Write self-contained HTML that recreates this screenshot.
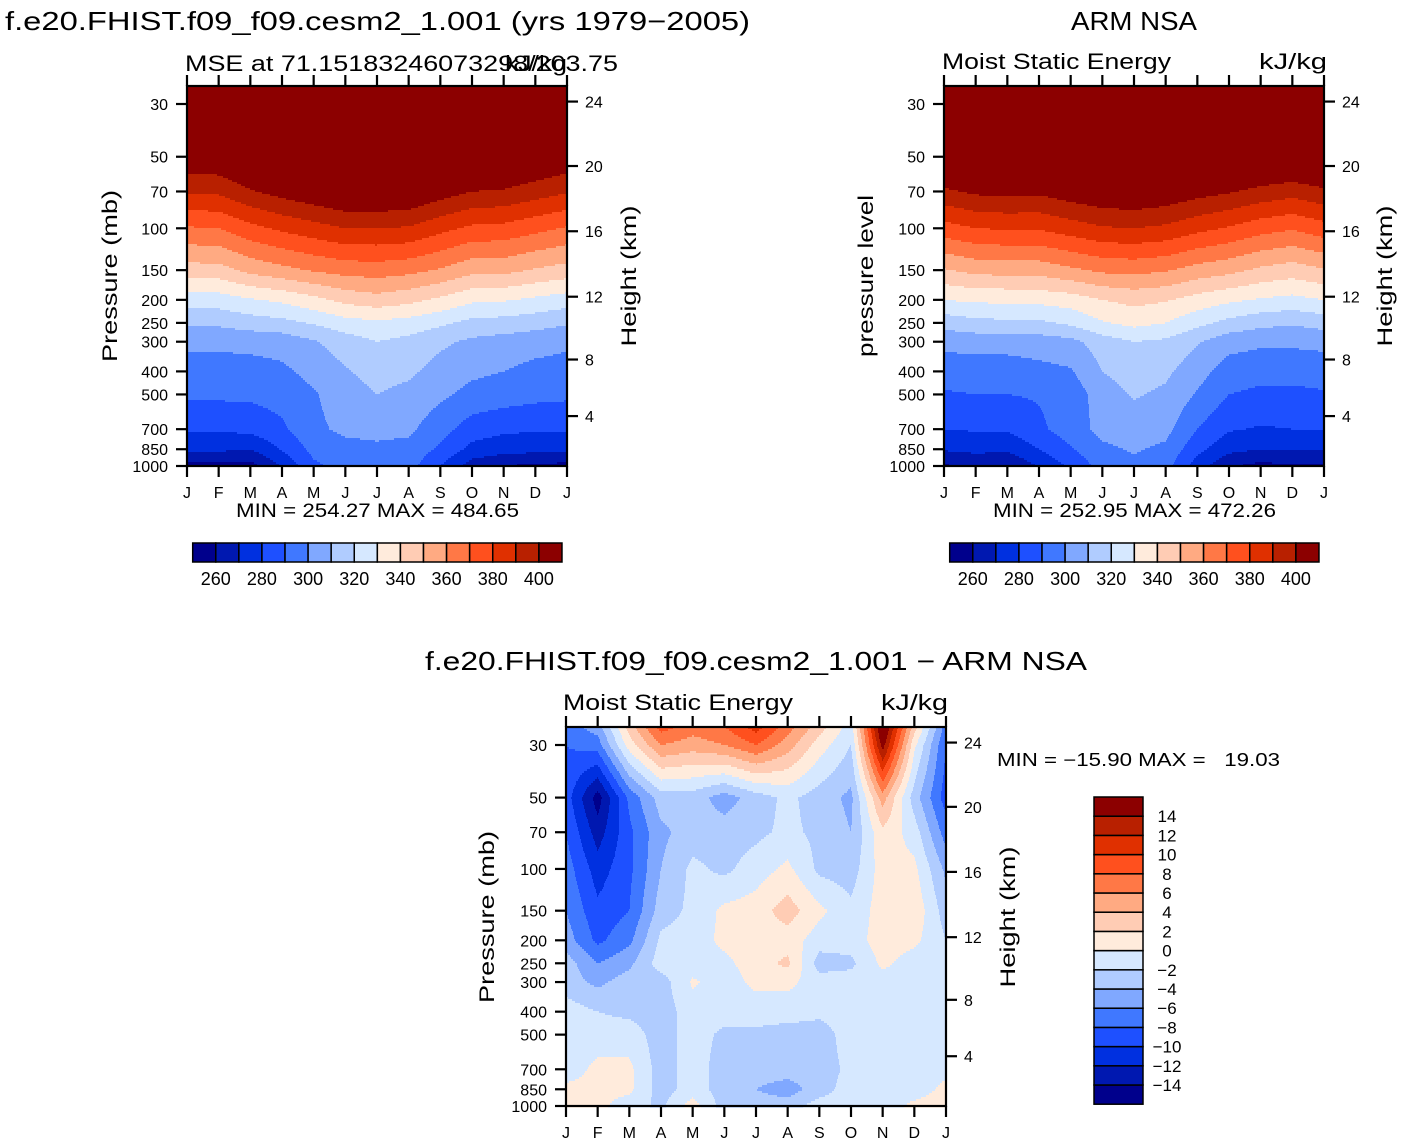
<!DOCTYPE html>
<html><head><meta charset="utf-8"><style>
html,body{margin:0;padding:0;background:#fff}
svg{display:block}
text{font-family:"Liberation Sans",Arial,sans-serif;fill:#000}
</style></head><body>
<svg id="root" xmlns="http://www.w3.org/2000/svg" width="1404" height="1144" viewBox="0 0 1404 1144">
<rect x="0" y="0" width="1404" height="1144" fill="#fff"/>
<text x="5" y="30" font-size="26" textLength="745" lengthAdjust="spacingAndGlyphs">f.e20.FHIST.f09_f09.cesm2_1.001 (yrs 1979−2005)</text>
<text x="1071" y="30" font-size="26" textLength="126" lengthAdjust="spacingAndGlyphs">ARM NSA</text>
<text x="185" y="71" font-size="22" textLength="433" lengthAdjust="spacingAndGlyphs">MSE at 71.15183246073298/203.75</text>
<text x="505" y="71" font-size="22" textLength="62" lengthAdjust="spacingAndGlyphs">kJ/kg</text>
<text x="942" y="69" font-size="22" textLength="229" lengthAdjust="spacingAndGlyphs">Moist Static Energy</text>
<text x="1259" y="69" font-size="22" textLength="68" lengthAdjust="spacingAndGlyphs">kJ/kg</text>
<text x="236" y="517" font-size="19" textLength="283" lengthAdjust="spacingAndGlyphs">MIN = 254.27 MAX = 484.65</text>
<text x="993" y="517" font-size="19" textLength="283" lengthAdjust="spacingAndGlyphs">MIN = 252.95 MAX = 472.26</text>
<text x="425" y="670" font-size="26" textLength="662" lengthAdjust="spacingAndGlyphs">f.e20.FHIST.f09_f09.cesm2_1.001 − ARM NSA</text>
<text x="563" y="710" font-size="22" textLength="230" lengthAdjust="spacingAndGlyphs">Moist Static Energy</text>
<text x="881" y="710" font-size="22" textLength="67" lengthAdjust="spacingAndGlyphs">kJ/kg</text>
<text x="997" y="766" font-size="18" textLength="283" lengthAdjust="spacingAndGlyphs" xml:space="preserve">MIN = −15.90 MAX =   19.03</text>
<text transform="translate(117,276) rotate(-90)" text-anchor="middle" font-size="21" textLength="172" lengthAdjust="spacingAndGlyphs">Pressure (mb)</text>
<text transform="translate(636,276) rotate(-90)" text-anchor="middle" font-size="21" textLength="141" lengthAdjust="spacingAndGlyphs">Height (km)</text>
<text transform="translate(873,276) rotate(-90)" text-anchor="middle" font-size="21" textLength="162" lengthAdjust="spacingAndGlyphs">pressure level</text>
<text transform="translate(1392,276) rotate(-90)" text-anchor="middle" font-size="21" textLength="141" lengthAdjust="spacingAndGlyphs">Height (km)</text>
<text transform="translate(494,917) rotate(-90)" text-anchor="middle" font-size="21" textLength="172" lengthAdjust="spacingAndGlyphs">Pressure (mb)</text>
<text transform="translate(1015,917) rotate(-90)" text-anchor="middle" font-size="21" textLength="141" lengthAdjust="spacingAndGlyphs">Height (km)</text>
</svg>
<script>
const months = ["J","F","M","A","M","J","J","A","S","O","N","D","J"];
const pressureLevels = [25,30,50,70,100,150,200,250,300,400,500,700,850,1000];
const pressureTicks = [30,50,70,100,150,200,250,300,400,500,700,850,1000];
const heightTicks = [24,20,16,12,8,4];
const heightTickPressures = [29.3,54.7,102.9,194.0,356.5,616.6];
const colorTable = ["#00008c","#0018b0","#0030e0","#1e50ff","#4078ff","#80a8ff","#b0ccff","#d6e8ff","#ffebdc","#ffccb4","#ffaa82","#ff7846","#ff501e","#e03000","#b82000","#8c0000"];
const mseLevels = [260,270,280,290,300,310,320,330,340,350,360,370,380,390,400];
const mseLabels = [260,280,300,320,340,360,380,400];
const diffLevels = [-14,-12,-10,-8,-6,-4,-2,0,2,4,6,8,10,12,14];
const diffLabels = [14,12,10,8,6,4,2,0,-2,-4,-6,-8,-10,-12,-14];

// rows = pressureLevels (25..1000 mb), columns = months J..J
const modelMSE = [
[450,451,456,459,462,465,465,464,460,456,456,453,450],
[440,441,446,449,452,455,455,454,450,446,446,443,440],
[408,409,415,420,424,428,428,427,422,416,415,412,408],
[391,392,399,404,408,412,412,411,405,400,399,395,391],
[369,370,377,382,386,390,390,389,383,378,377,373,369],
[346,346,353,357,361,364,365,363,359,353,353,349,346],
[325,325,329,332,337,343,346,343,338,332,331,328,325],
[311,312,315,317,321,326,328,326,322,317,316,314,311],
[302,302,303,304,309,315,320,317,312,308,306,304,302],
[296,296,296,298,303,309,314,312,306,302,300,297,296],
[292,292,292,294,299,305,310,307,302,297,295,293,292],
[281,281,283,288,298,302,303,302,294,285,282,281,281],
[272,272,270,281,293,297,298,297,288,277,274,273,272],
[257,257,256,271,288,294,296,294,280,265,260,258,257]
];
const obsMSE = [
[445,448,449,449,451,454,455,453,450,448,444,442,445],
[438,440,441,440,442,444,445,444,442,440,437,436,438],
[418,420,421,420,422,424,425,424,422,420,417,416,418],
[398,402,403,402,406,409,410,408,404,401,397,394,398],
[376,380,381,381,385,389,390,388,383,379,374,371,376],
[349,353,354,354,358,362,363,361,356,353,348,345,349],
[330,332,332,333,335,340,343,341,336,332,329,327,330],
[314,317,318,318,322,329,333,330,323,317,313,311,314],
[303,304,304,305,307,315,320,318,311,304,302,302,303],
[294,295,295,297,299,310,315,312,304,295,293,293,294],
[289,290,290,291,294,305,311,308,299,290,288,288,289],
[280,281,281,288,295,303,305,303,290,281,279,280,280],
[271,273,272,280,289,298,301,298,283,273,270,271,271],
[259,261,260,271,282,294,298,294,275,261,257,259,259]
];
const diffMSE = [
[-7,-5,3,9,7,8,11,7,3,-1,17,3,-7],
[-8,-7,1,6,5,6,8,5,1,-2,15,0.5,-8],
[-9,-15,-7.5,-3,-3,-5,-3,-1.5,-3,-4.5,5,-3,-9],
[-8,-13,-8.5,-4.5,-3,-3,-2.5,-1.5,-2.5,-4,1.5,-1,-7],
[-7,-11,-8.5,-4,-1.5,-2.5,-1,0.5,-2.5,-3,1,0.5,-4.5],
[-6,-9.5,-8,-3,-1.5,0.5,1,3,0.5,-1.5,1,1.5,-3],
[-5,-8.5,-6.5,-1.5,-1,0.5,1,1,-1,-1,1,0.5,-2],
[-3,-6,-4.5,-1,-1,-0.5,1,2.5,-3,-2.5,0.5,-1,-1],
[-3,-4.5,-3,-3,0.3,-1,0.5,0.5,-1,-1,-1,-1,-1],
[-1,-2,-2.5,-3,-1,-1,-1,-1,-1.5,-1,-1,-1,-1],
[-1,-1,-1,-3,-1,-2.5,-2.5,-3,-3,-1,-1,-1,-1],
[-1,0.5,0.5,-3,-1,-3,-3,-3,-3,-1.5,-1,-1,-0.5],
[0.5,0.5,0.5,-3,-1,-3,-4,-5,-3,-1,-1,-1,0.5],
[0.5,0.5,-1,-2.5,1,-3,-3,-3,-1,-1,-1,0.5,1]
];

const NS = "http://www.w3.org/2000/svg";
const root = document.getElementById("root");
function mk(tag, attrs, parent) {
  const e = document.createElementNS(NS, tag);
  for (const k in attrs) e.setAttribute(k, attrs[k]);
  (parent || root).appendChild(e);
  return e;
}
function bandIndex(v, levels) {
  let k = 0;
  for (const l of levels) if (v >= l) k++;
  return Math.max(0, Math.min(colorTable.length - 1, k));
}

function drawPanel(name, x0, y0, w, h, grid, levels) {
  const g = mk("g", {});
  
  
  const s = (h - 18) / Math.log10(1000 / 30);
  const yOfP = p => y0 + 18 + Math.log10(p / 30) * s;
  const xOfM = m => x0 + m * w / 12;
  const levY = pressureLevels.map(yOfP);
  const nM = months.length - 1;
  function valueAt(px, py) {
    const mx = Math.min(nM - 1e-6, Math.max(0, (px - x0) / w * nM));
    const i = Math.floor(mx), t = mx - i;
    let j = 0, u = 0;
    if (py <= levY[0]) { j = 0; u = 0; }
    else if (py >= levY[levY.length - 1]) { j = levY.length - 2; u = 1; }
    else {
      while (j < levY.length - 2 && py > levY[j + 1]) j++;
      u = (py - levY[j]) / (levY[j + 1] - levY[j]);
    }
    const a = grid[j][i] * (1 - t) + grid[j][i + 1] * t;
    const b = grid[j + 1][i] * (1 - t) + grid[j + 1][i + 1] * t;
    return a * (1 - u) + b * u;
  }
  const cg = mk("g", {}, g);
  
  
  const step = 2;
  for (let y = y0; y < y0 + h; y += step) {
    let runStart = x0, runC = -1;
    for (let x = x0; x <= x0 + w; x++) {
      const c = x < x0 + w ? bandIndex(valueAt(x + 0.5, y + step / 2), levels) : -2;
      if (c !== runC) {
        if (runC >= 0) {
          const r = mk("rect", {x: runStart, y: y, width: x - runStart + 0.6, height: step + 0.6, fill: colorTable[runC]}, cg);
          
          
        }
        runStart = x; runC = c;
      }
    }
  }
  const fr = mk("rect", {x: x0, y: y0, width: w, height: h, fill: "none", stroke: "#000", "stroke-width": 2.2}, g);
  
  
  months.forEach((m, i) => {
    const x = xOfM(i);
    const t1 = mk("line", {x1: x, y1: y0 + h, x2: x, y2: y0 + h + 11, stroke: "#000", "stroke-width": 2.2}, g);
    
    
    const t2 = mk("line", {x1: x, y1: y0, x2: x, y2: y0 - 11, stroke: "#000", "stroke-width": 2.2}, g);
    
    
    const tl = mk("text", {x: x, y: y0 + h + 32, "font-size": 16, "text-anchor": "middle"}, g);
    tl.textContent = m;
    
    
  });
  pressureTicks.forEach(p => {
    const y = yOfP(p);
    const t = mk("line", {x1: x0 - 11, y1: y, x2: x0, y2: y, stroke: "#000", "stroke-width": 2.2}, g);
    
    
    const tl = mk("text", {x: x0 - 19, y: y + 6, "font-size": 16, "text-anchor": "end"}, g);
    tl.textContent = p;
    
    
  });
  heightTicks.forEach((km, i) => {
    const y = yOfP(heightTickPressures[i]);
    const t = mk("line", {x1: x0 + w, y1: y, x2: x0 + w + 11, y2: y, stroke: "#000", "stroke-width": 2.2}, g);
    
    
    const tl = mk("text", {x: x0 + w + 18, y: y + 6, "font-size": 16}, g);
    tl.textContent = km;
    
    
  });
}

drawPanel("model", 187, 86, 380, 380, modelMSE, mseLevels);
drawPanel("obs", 944, 86, 380, 380, obsMSE, mseLevels);
drawPanel("diff", 566, 727, 380, 379, diffMSE, diffLevels);

function hColorbar(name, x0, y0, bw, bh) {
  const g = mk("g", {});
  
  
  colorTable.forEach((c, i) => {
    const r = mk("rect", {x: x0 + i * bw, y: y0, width: bw, height: bh, fill: c, stroke: "#000", "stroke-width": 1.5}, g);
    
    
  });
  mseLabels.forEach(v => {
    const k = mseLevels.indexOf(v) + 1;
    const t = mk("text", {x: x0 + k * bw, y: y0 + bh + 23, "font-size": 18, "text-anchor": "middle"}, g);
    t.textContent = v;
    
    
  });
}
hColorbar("model-colorbar", 192.7, 543, 23.08, 19);
hColorbar("obs-colorbar", 949.7, 543, 23.08, 19);

(function () {
  const g = mk("g", {});
  
  
  const x0 = 1094, y0 = 797, bw = 49, bh = 19.2, n = colorTable.length;
  colorTable.forEach((c, i) => {
    const r = mk("rect", {x: x0, y: y0 + (n - 1 - i) * bh, width: bw, height: bh, fill: c, stroke: "#000", "stroke-width": 1.5}, g);
    
    
  });
  diffLabels.forEach(v => {
    const k = diffLevels.indexOf(v) + 1;
    const y = y0 + (n - k) * bh;
    const t = mk("text", {x: 1167, y: y + 6, "font-size": 17, "text-anchor": "middle"}, g);
    t.textContent = v < 0 ? "−" + Math.abs(v) : String(v);
    
    
  });
})();
</script>
</body></html>
